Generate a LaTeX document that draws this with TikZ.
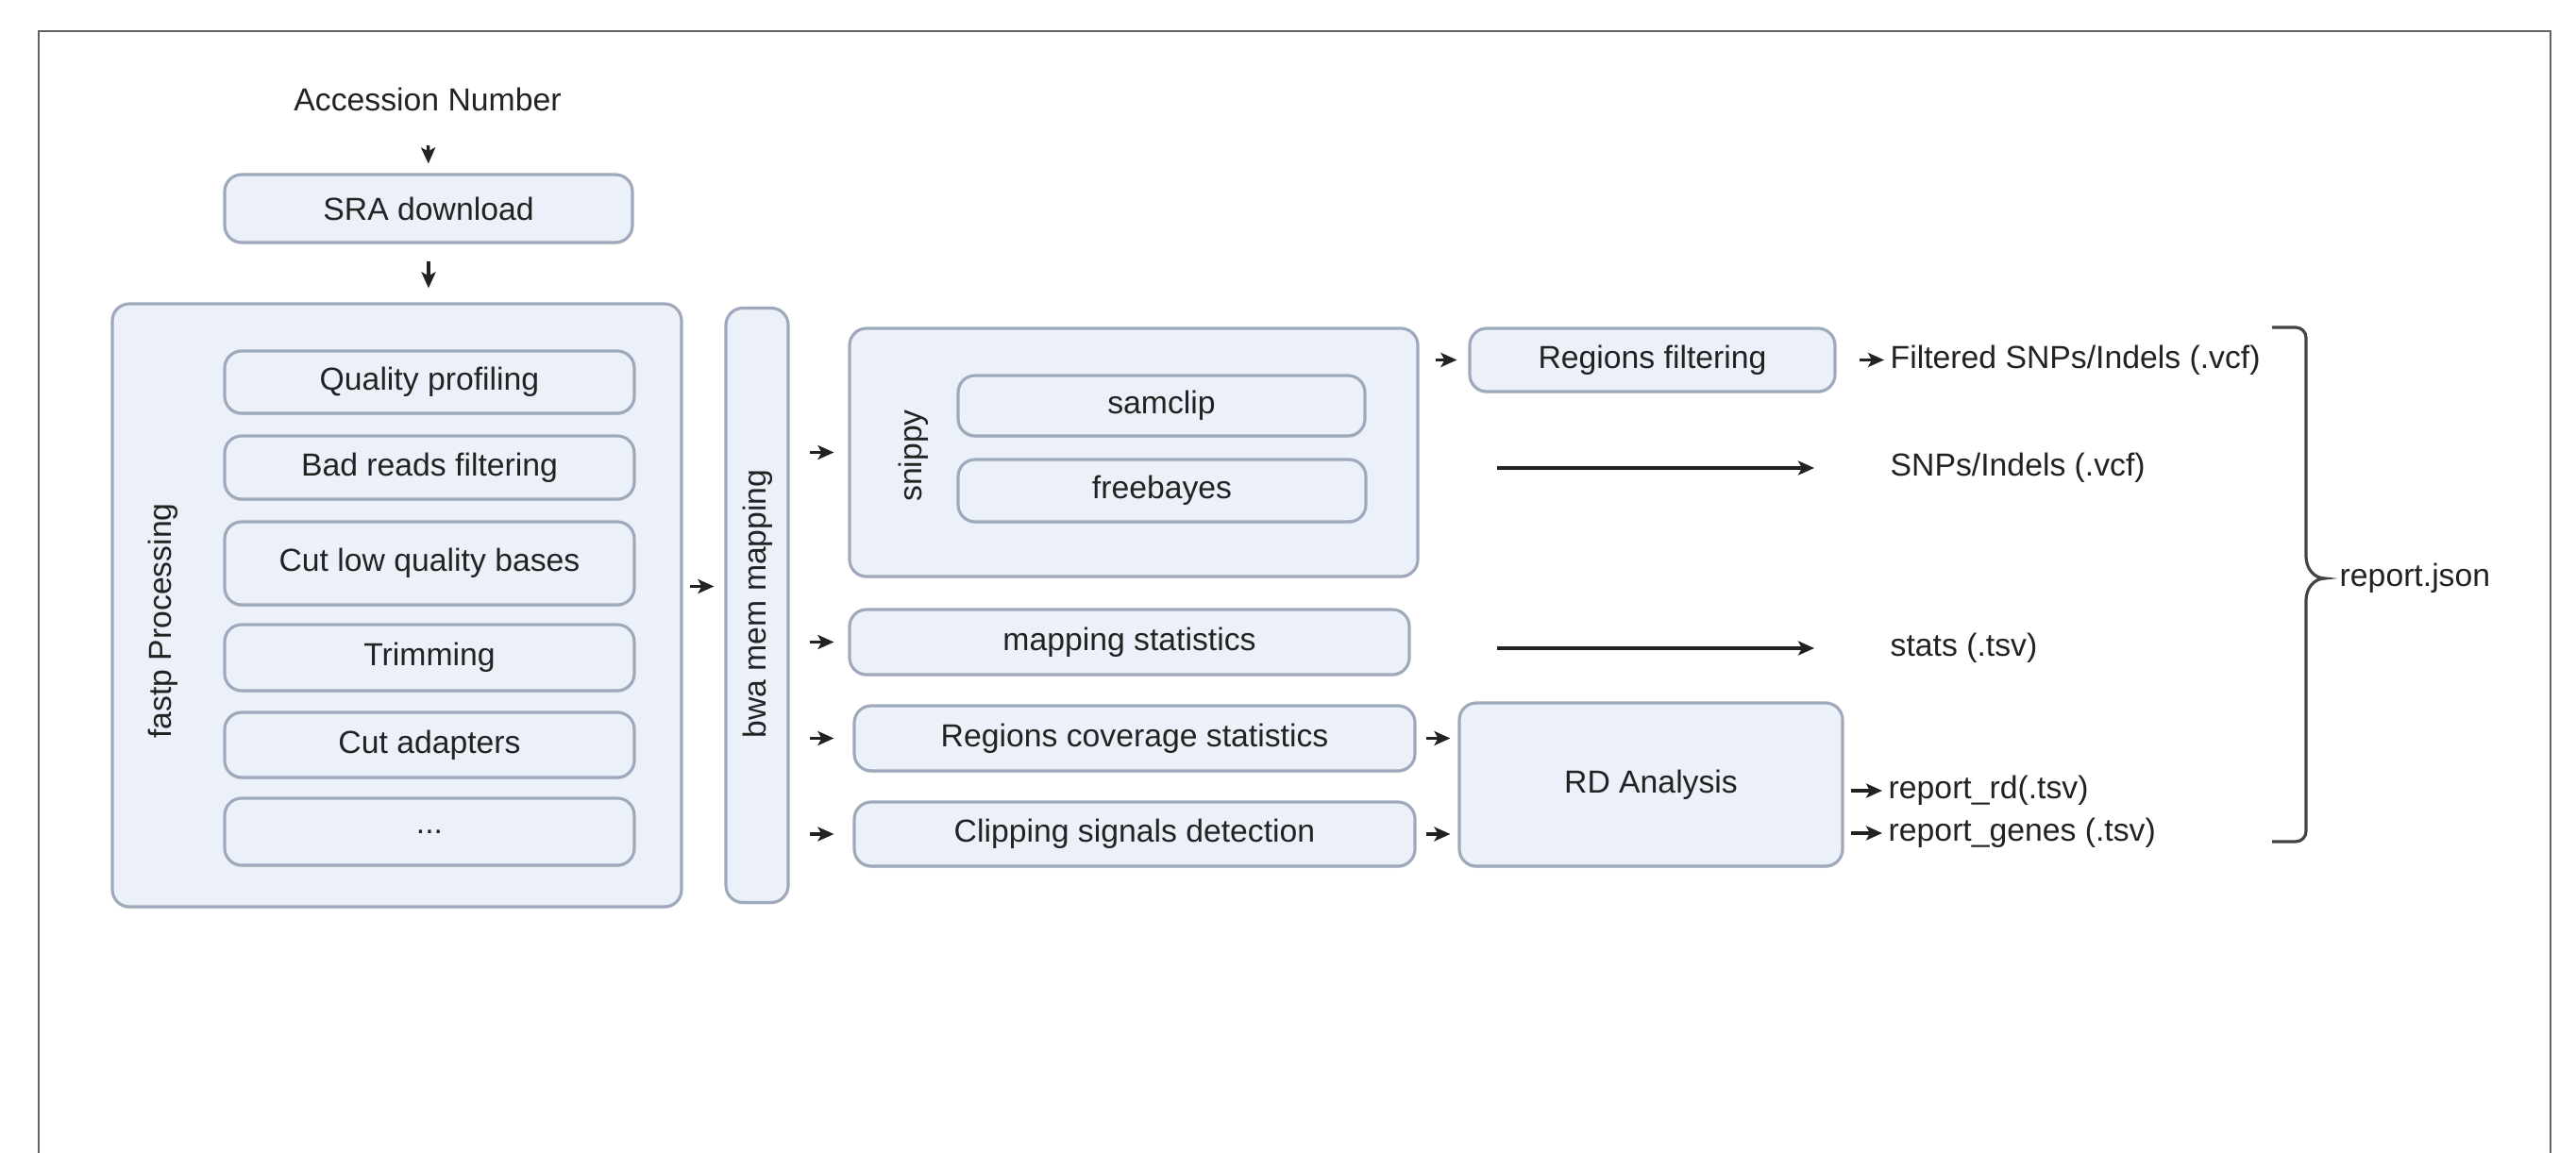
\documentclass[tikz,border=0pt]{standalone}
\usepackage{fontspec}
\setmainfont{Liberation Sans}
\usetikzlibrary{arrows.meta,shadows}

\definecolor{boxfill}{RGB}{236,241,249}
\definecolor{boxline}{RGB}{158,169,187}
\definecolor{ink}{RGB}{34,34,34}
\definecolor{framegray}{RGB}{100,100,100}
\newcommand{\figfont}{\fontsize{9.6}{11.5}\selectfont}

\begin{document}
\begin{tikzpicture}[
    box/.style={draw=boxline, fill=boxfill, line width=0.9pt, rounded corners=0.18cm,
                text=ink, font=\figfont, inner sep=0pt, align=center,
                drop shadow={shadow xshift=0pt, shadow yshift=-0.6pt, opacity=0.18}},
    plain/.style={text=ink, font=\figfont, inner sep=0pt},
    arr/.style={-{Stealth[length=1.7mm,width=1.5mm,inset=0.4mm]}, line width=0.95pt, draw=ink},
    brace/.style={line width=0.9pt, draw=ink!85}
]

    % Page size and frame
    \useasboundingbox (0,0) rectangle (27.29,-12.22);
    \fill[white] (0,0) rectangle (27.29,-12.22);
    \draw[framegray, line width=0.7pt] (0.41,-12.22) -- (0.41,-0.33) -- (27.02,-0.33) -- (27.02,-12.22);

    % Input and download
    \node[plain] (acc) at (4.53,-1.05) {Accession Number};
    \node[box, minimum width=4.32cm, minimum height=0.72cm] (sra) at (4.54,-2.21) {SRA download};

    % fastp block with its steps
    \node[box, minimum width=6.03cm, minimum height=6.39cm] (fastp) at (4.205,-6.415) {};
    \node[plain, rotate=90] (fastplbl) at (1.73,-6.58) {fastp Processing};
    \node[box, minimum width=4.34cm, minimum height=0.66cm] (qual) at (4.55,-4.05) {Quality profiling};
    \node[box, minimum width=4.34cm, minimum height=0.67cm] (bad) at (4.55,-4.955) {Bad reads filtering};
    \node[box, minimum width=4.34cm, minimum height=0.88cm] (cutlow) at (4.55,-5.97) {Cut low quality bases};
    \node[box, minimum width=4.34cm, minimum height=0.70cm] (trim) at (4.55,-6.97) {Trimming};
    \node[box, minimum width=4.34cm, minimum height=0.69cm] (adapt) at (4.55,-7.895) {Cut adapters};
    \node[box, minimum width=4.34cm, minimum height=0.71cm] (more) at (4.55,-8.815) {...};

    % Mapping
    \node[box, minimum width=0.66cm, minimum height=6.30cm] (bwa) at (8.02,-6.415) {};
    \node[plain, rotate=90] (bwalbl) at (8.03,-6.40) {bwa mem mapping};

    % snippy block
    \node[box, minimum width=6.02cm, minimum height=2.63cm] (snippy) at (12.01,-4.795) {};
    \node[plain, rotate=90] (snippylbl) at (9.68,-4.83) {snippy};
    \node[box, minimum width=4.31cm, minimum height=0.64cm] (samclip) at (12.305,-4.30) {samclip};
    \node[box, minimum width=4.32cm, minimum height=0.66cm] (freebayes) at (12.31,-5.20) {freebayes};

    % Statistics and detection
    \node[box, minimum width=5.93cm, minimum height=0.69cm] (mapstat) at (11.965,-6.805) {mapping statistics};
    \node[box, minimum width=5.94cm, minimum height=0.69cm] (regcov) at (12.02,-7.825) {Regions coverage statistics};
    \node[box, minimum width=5.94cm, minimum height=0.68cm] (clip) at (12.02,-8.84) {Clipping signals detection};

    % Filtering and RD analysis
    \node[box, minimum width=3.87cm, minimum height=0.67cm] (regfilt) at (17.505,-3.815) {Regions filtering};
    \node[box, minimum width=4.06cm, minimum height=1.73cm] (rd) at (17.49,-8.315) {RD Analysis};

    % Output files
    \node[plain, anchor=west] (filt) at (20.02,-3.815) {Filtered SNPs/Indels (.vcf)};
    \node[plain, anchor=west] (snps) at (20.02,-4.96) {SNPs/Indels (.vcf)};
    \node[plain, anchor=west] (stats) at (20.02,-6.87) {stats (.tsv)};
    \node[plain, anchor=west] (rdrep) at (20.00,-8.38) {report\_rd(.tsv)};
    \node[plain, anchor=west] (genes) at (20.00,-8.83) {report\_genes (.tsv)};
    \node[plain, anchor=west] (json) at (24.78,-6.13) {report.json};

    % Arrows
    \draw[arr, shorten <=0.36cm, shorten >=0.10cm] (acc.south) -- (sra.north);
    \draw[arr, shorten <=0.18cm, shorten >=0.15cm] (sra.south) -- (sra.south |- fastp.north);
    \draw[arr, shorten <=0.07cm, shorten >=0.11cm] ([yshift=2mm]fastp.east) -- ([yshift=2mm]bwa.west);
    \draw[arr, shorten <=0.21cm, shorten >=0.15cm] (bwa.east |- snippy.west) -- (snippy.west);
    \draw[arr, shorten <=0.21cm, shorten >=0.15cm] (bwa.east |- mapstat.west) -- (mapstat.west);
    \draw[arr, shorten <=0.21cm, shorten >=0.20cm] (bwa.east |- regcov.west) -- (regcov.west);
    \draw[arr, shorten <=0.21cm, shorten >=0.20cm] (bwa.east |- clip.west) -- (clip.west);
    \draw[arr, shorten <=0.17cm, shorten >=0.12cm] (snippy.east |- regfilt.west) -- (regfilt.west);
    \draw[arr, shorten <=0.24cm, shorten >=0.06cm] (regfilt.east) -- (filt.west);
    \draw[arr, shorten <=0.82cm, shorten >=0.80cm] (snippy.east |- snps.west) -- (snps.west);
    \draw[arr, shorten <=0.91cm, shorten >=0.80cm] (mapstat.east |- stats.west) -- (stats.west);
    \draw[arr, shorten <=0.10cm, shorten >=0.08cm] (regcov.east) -- (regcov.east -| rd.west);
    \draw[arr, shorten <=0.10cm, shorten >=0.08cm] (clip.east) -- (clip.east -| rd.west);
    \draw[arr, shorten <=0.07cm, shorten >=0.06cm] (rd.east |- rdrep.west) -- (rdrep.west);
    \draw[arr, shorten <=0.07cm, shorten >=0.06cm] (rd.east |- genes.west) -- (genes.west);

    % Brace round the outputs
    \draw[brace] (24.07,-3.47) -- (24.32,-3.47) to[out=0,in=90] (24.43,-3.58) -- (24.43,-5.90)
        to[out=-90,in=180] (24.63,-6.13) to[out=180,in=90] (24.43,-6.36) -- (24.43,-8.81)
        to[out=-90,in=0] (24.32,-8.92) -- (24.07,-8.92);

\end{tikzpicture}
\end{document}
